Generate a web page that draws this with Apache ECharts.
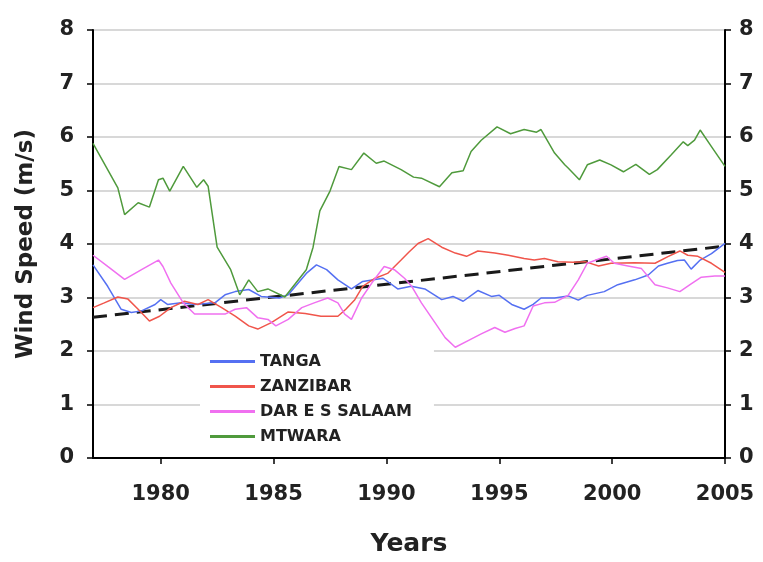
<!DOCTYPE html>
<html>
<head>
<meta charset="utf-8">
<script src="https://cdn.jsdelivr.net/npm/echarts@6/dist/echarts.min.js"></script>
<style>
  html, body { margin: 0; padding: 0; background: #fff; }
  #windChart { width: 763px; height: 562px; }
</style>
</head>
<body>
<div id="windChart"></div>
<script>
// smoothed annual wind speed (m/s)
const tangaYears = [1977.0, 1977.65, 1978.25, 1978.7, 1979.15, 1979.75, 1980.0, 1980.3, 1980.9, 1981.5, 1982.4, 1982.85, 1983.3, 1983.9, 1984.45, 1985.25, 1985.65, 1986.45, 1986.9, 1987.35, 1987.85, 1988.45, 1988.95, 1989.85, 1990.5, 1991.1, 1991.7, 1992.45, 1992.95, 1993.4, 1994.05, 1994.65, 1995.0, 1995.55, 1996.1, 1996.5, 1996.85, 1997.45, 1998.05, 1998.5, 1998.9, 1999.65, 2000.25, 2001.0, 2001.6, 2002.05, 2002.45, 2002.9, 2003.2, 2003.5, 2003.9, 2004.4, 2005.0]
const tangaSpeed = [3.61, 3.21, 2.78, 2.72, 2.75, 2.87, 2.96, 2.87, 2.90, 2.87, 2.90, 3.05, 3.11, 3.15, 3.02, 2.99, 3.05, 3.45, 3.61, 3.52, 3.33, 3.16, 3.30, 3.36, 3.16, 3.21, 3.16, 2.96, 3.02, 2.93, 3.13, 3.02, 3.04, 2.87, 2.78, 2.87, 2.99, 2.99, 3.03, 2.95, 3.04, 3.11, 3.24, 3.33, 3.42, 3.59, 3.64, 3.69, 3.70, 3.53, 3.70, 3.82, 4.01]

const zanzibarYears = [1977.0, 1977.5, 1978.1, 1978.55, 1979.0, 1979.5, 1979.95, 1980.45, 1981.05, 1981.65, 1982.1, 1982.7, 1983.3, 1983.9, 1984.3, 1984.9, 1985.65, 1986.4, 1987.1, 1987.85, 1988.2, 1988.6, 1988.95, 1989.5, 1990.05, 1990.65, 1991.0, 1991.4, 1991.85, 1992.45, 1993.05, 1993.55, 1994.05, 1994.8, 1995.4, 1996.1, 1996.55, 1997.0, 1997.6, 1998.25, 1998.8, 1999.4, 1999.95, 2001.0, 2001.9, 2002.45, 2003.0, 2003.35, 2003.8, 2004.4, 2005.0]
const zanzibarSpeed = [2.81, 2.90, 3.01, 2.97, 2.78, 2.56, 2.65, 2.81, 2.93, 2.87, 2.96, 2.81, 2.65, 2.47, 2.41, 2.53, 2.73, 2.70, 2.65, 2.65, 2.78, 2.96, 3.21, 3.36, 3.45, 3.70, 3.85, 4.01, 4.10, 3.94, 3.83, 3.77, 3.87, 3.83, 3.79, 3.73, 3.70, 3.73, 3.67, 3.66, 3.67, 3.59, 3.64, 3.65, 3.64, 3.76, 3.87, 3.79, 3.77, 3.64, 3.47]

const darYears = [1977.0, 1977.65, 1978.4, 1979.15, 1979.9, 1980.1, 1980.45, 1981.0, 1981.5, 1982.25, 1982.85, 1983.3, 1983.8, 1984.3, 1984.75, 1985.1, 1985.65, 1986.25, 1986.8, 1987.4, 1987.85, 1988.15, 1988.45, 1988.9, 1989.35, 1989.9, 1990.35, 1990.8, 1991.1, 1991.55, 1992.15, 1992.6, 1993.05, 1993.6, 1994.2, 1994.8, 1995.25, 1995.7, 1996.1, 1996.5, 1997.0, 1997.45, 1998.05, 1998.5, 1998.9, 1999.35, 1999.75, 2000.1, 2000.7, 2001.3, 2001.9, 2002.45, 2003.0, 2003.45, 2003.95, 2004.55, 2005.0]
const darSpeed = [3.79, 3.58, 3.34, 3.52, 3.70, 3.58, 3.27, 2.90, 2.69, 2.69, 2.69, 2.78, 2.81, 2.62, 2.59, 2.47, 2.59, 2.81, 2.90, 2.99, 2.90, 2.69, 2.59, 2.99, 3.27, 3.58, 3.52, 3.36, 3.22, 2.90, 2.53, 2.25, 2.07, 2.19, 2.32, 2.44, 2.35, 2.42, 2.47, 2.84, 2.90, 2.91, 3.04, 3.33, 3.64, 3.71, 3.77, 3.64, 3.59, 3.54, 3.24, 3.18, 3.11, 3.24, 3.38, 3.40, 3.40]

const mtwaraYears = [1977.0, 1978.1, 1978.4, 1979.0, 1979.5, 1979.9, 1980.1, 1980.4, 1981.0, 1981.6, 1981.9, 1982.1, 1982.5, 1983.1, 1983.5, 1983.9, 1984.3, 1984.75, 1985.5, 1986.45, 1986.75, 1987.05, 1987.5, 1987.9, 1988.45, 1989.0, 1989.55, 1989.9, 1990.65, 1991.2, 1991.55, 1992.35, 1992.9, 1993.4, 1993.75, 1994.2, 1994.9, 1995.5, 1996.1, 1996.65, 1996.85, 1997.45, 1997.9, 1998.05, 1998.55, 1998.9, 1999.45, 1999.95, 2000.5, 2001.05, 2001.65, 2002.0, 2002.6, 2003.15, 2003.35, 2003.65, 2003.9, 2004.4, 2005.0]
const mtwaraSpeed = [5.88, 5.05, 4.55, 4.77, 4.69, 5.20, 5.23, 4.99, 5.45, 5.06, 5.20, 5.08, 3.94, 3.52, 3.05, 3.33, 3.11, 3.16, 3.01, 3.52, 3.94, 4.62, 4.99, 5.45, 5.39, 5.70, 5.51, 5.55, 5.39, 5.25, 5.23, 5.07, 5.33, 5.37, 5.73, 5.94, 6.19, 6.06, 6.14, 6.09, 6.14, 5.70, 5.48, 5.42, 5.20, 5.48, 5.57, 5.48, 5.35, 5.49, 5.30, 5.39, 5.66, 5.91, 5.84, 5.94, 6.13, 5.82, 5.45]

// linear trend (dashed)
const trendYears = [1977, 2005]
const trendSpeed = [2.63, 3.96]

const yearTicks = [1980, 1985, 1990, 1995, 2000, 2005]

const font = 'DejaVu Sans'
const textColor = '#222'

function pairs (xs, ys) {
  return xs.map((x, i) => [x, ys[i]])
}

function lineSeries (name, color, xs, ys) {
  return {
    name: name,
    type: 'line',
    symbol: 'none',
    smooth: false,
    lineStyle: { color: color, width: 1.5 },
    itemStyle: { color: color },
    data: pairs(xs, ys)
  }
}

const chart = echarts.init(document.getElementById('windChart'))

const yAxisBase = {
  type: 'value',
  min: 0,
  max: 8,
  interval: 1,
  axisLine: { show: true, lineStyle: { color: '#000', width: 2 } },
  axisTick: { show: true, inside: false, length: 6, lineStyle: { color: '#000', width: 1.5 } },
  axisLabel: { color: textColor, fontFamily: font, fontWeight: 'bold', fontSize: 21 }
}

const options = {
  animation: false,
  backgroundColor: '#fff',
  grid: {
    left: 93,
    right: 38,
    top: 30,
    bottom: 97
  },
  legend: {
    orient: 'vertical',
    left: 200,
    top: 347,
    backgroundColor: '#fff',
    padding: [5, 22, 5, 10],
    itemWidth: 45,
    itemHeight: 3,
    itemGap: 6,
    icon: 'rect',
    textStyle: { color: textColor, fontFamily: font, fontWeight: 'bold', fontSize: 16, lineHeight: 19 },
    data: ['TANGA', 'ZANZIBAR', 'DAR E S SALAAM', 'MTWARA']
  },
  xAxis: {
    type: 'value',
    min: 1977,
    max: 2005,
    name: 'Years',
    nameLocation: 'middle',
    nameGap: 74,
    nameTextStyle: { color: textColor, fontFamily: font, fontWeight: 'bold', fontSize: 25 },
    axisLine: { show: true, onZero: false, lineStyle: { color: '#000', width: 2 } },
    axisTick: { show: true, inside: false, length: 6, customValues: yearTicks, lineStyle: { color: '#000', width: 1.5 } },
    axisLabel: {
      customValues: yearTicks,
      formatter: v => String(v),
      margin: 26,
      color: textColor,
      fontFamily: font,
      fontWeight: 'bold',
      fontSize: 21
    },
    splitLine: { show: false }
  },
  yAxis: [
    Object.assign({}, yAxisBase, {
      position: 'left',
      name: 'Wind Speed (m/s)',
      nameLocation: 'middle',
      nameRotate: 90,
      nameGap: 55,
      nameTextStyle: { color: textColor, fontFamily: font, fontWeight: 'bold', fontSize: 23 },
      axisLabel: Object.assign({}, yAxisBase.axisLabel, { margin: 19 }),
      splitLine: { show: true, lineStyle: { color: '#d8d8d8', width: 2 } }
    }),
    Object.assign({}, yAxisBase, {
      position: 'right',
      axisLabel: Object.assign({}, yAxisBase.axisLabel, { margin: 14 }),
      splitLine: { show: false }
    })
  ],
  series: [
    lineSeries('TANGA', '#5570f2', tangaYears, tangaSpeed),
    lineSeries('ZANZIBAR', '#f0554b', zanzibarYears, zanzibarSpeed),
    lineSeries('DAR E S SALAAM', '#f070f0', darYears, darSpeed),
    lineSeries('MTWARA', '#4f9a3c', mtwaraYears, mtwaraSpeed),
    {
      name: 'trend',
      type: 'line',
      symbol: 'none',
      z: 1,
      lineStyle: { color: '#1a1a1a', width: 3, type: [14, 8] },
      data: pairs(trendYears, trendSpeed)
    }
  ]
}

chart.setOption(options)
</script>
</body>
</html>
